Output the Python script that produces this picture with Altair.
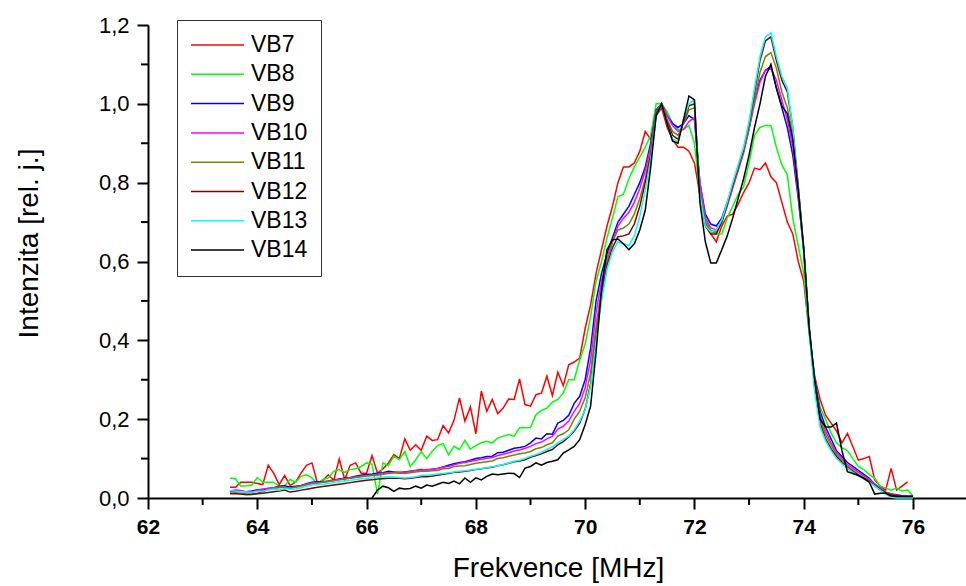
import altair as alt
import pandas as pd

# sample grid (MHz), 63.5 ... 76.0 in 0.1 steps
freq = [round(63.5 + 0.1 * i, 1) for i in range(126)]

series_names = ["VB7", "VB8", "VB9", "VB10", "VB11", "VB12", "VB13", "VB14"]
series_colors = ["#FF0000", "#00FF00", "#0000FF", "#FF00FF", "#808000", "#800000", "#00FFFF", "#000000"]

vb7 = [0.027, 0.027, 0.04, 0.04, 0.04, 0.037, 0.034, 0.083, 0.063, 0.034,
       0.057, 0.032, 0.04, 0.063, 0.083, 0.089, 0.038, 0.045, 0.059, 0.045,
       0.099, 0.047, 0.083, 0.089, 0.063, 0.063, 0.108, 0.063, 0.074, 0.089,
       0.11, 0.10, 0.15, 0.121, 0.135, 0.121, 0.157, 0.146, 0.148, 0.184,
       0.165, 0.197, 0.254, 0.195, 0.231, 0.163, 0.271, 0.22, 0.25, 0.214,
       0.228, 0.251, 0.25, 0.302, 0.237, 0.233, 0.262, 0.266, 0.309, 0.26,
       0.319, 0.285, 0.338, 0.345, 0.355, 0.43, 0.49, 0.57, 0.63, 0.69,
       0.74, 0.80, 0.84, 0.84, 0.85, 0.88, 0.93, 0.91, 0.97, 0.99,
       0.94, 0.91, 0.89, 0.89, 0.88, 0.85, 0.77, 0.70, 0.67, 0.65,
       0.69, 0.715, 0.72, 0.745, 0.775, 0.80, 0.837, 0.833, 0.85, 0.815,
       0.80, 0.75, 0.70, 0.67, 0.60, 0.55, 0.42, 0.31, 0.25, 0.21,
       0.19, 0.17, 0.14, 0.164, 0.13, 0.096, 0.10, 0.105, 0.046, 0.03,
       0.02, 0.075, 0.02, 0.03, 0.041, None]

vb8 = [0.051, 0.049, 0.03, 0.031, 0.033, 0.052, 0.04, 0.04, 0.04, 0.03,
       0.031, 0.047, 0.04, 0.055, 0.059, 0.051, 0.036, 0.047, 0.051, 0.068,
       0.072, 0.065, 0.072, 0.074, 0.08, 0.089, 0.086, 0.01, 0.089, 0.082,
       0.106, 0.097, 0.118, 0.08, 0.097, 0.118, 0.10, 0.118, 0.133, 0.138,
       0.11, 0.131, 0.123, 0.146, 0.124, 0.133, 0.14, 0.144, 0.14, 0.152,
       0.157, 0.161, 0.157, 0.178, 0.178, 0.179, 0.211, 0.222, 0.228, 0.243,
       0.25, 0.266, 0.30, 0.30, 0.35, 0.39, 0.46, 0.55, 0.60, 0.66,
       0.71, 0.765, 0.77, 0.81, 0.84, 0.865, 0.89, 0.92, 1.0, 1.0,
       0.98, 0.95, 0.935, 0.935, 0.945, 0.90, 0.77, 0.71, 0.68, 0.67,
       0.67, 0.71, 0.74, 0.77, 0.79, 0.85, 0.92, 0.94, 0.945, 0.945,
       0.89, 0.845, 0.82, 0.71, 0.64, 0.57, 0.42, 0.30, 0.23, 0.20,
       0.165, 0.14, 0.128, 0.12, 0.10, 0.08, 0.072, 0.06, 0.05, 0.03,
       0.025, 0.02, 0.025, 0.018, 0.02, 0.005]

vb9 = [0.016, 0.018, 0.017, 0.016, 0.018, 0.021, 0.02, 0.024, 0.026, 0.03,
       0.031, 0.028, 0.03, 0.032, 0.036, 0.04, 0.041, 0.041, 0.043, 0.046,
       0.048, 0.05, 0.052, 0.055, 0.058, 0.06, 0.061, 0.063, 0.064, 0.068,
       0.066, 0.064, 0.066, 0.068, 0.07, 0.072, 0.071, 0.073, 0.075, 0.079,
       0.083, 0.087, 0.09, 0.092, 0.096, 0.1, 0.102, 0.105, 0.106, 0.115,
       0.116, 0.121, 0.126, 0.128, 0.131, 0.14, 0.152, 0.15, 0.163, 0.162,
       0.19, 0.197, 0.21, 0.24, 0.258, 0.30, 0.38, 0.50, 0.57, 0.62,
       0.66, 0.70, 0.72, 0.74, 0.77, 0.80, 0.84, 0.90, 0.985, 1.0,
       0.97, 0.95, 0.94, 0.95, 0.97, 0.96, 0.80, 0.72, 0.695, 0.69,
       0.71, 0.75, 0.79, 0.835, 0.88, 0.94, 1.01, 1.06, 1.085, 1.095,
       1.04, 0.99, 0.94, 0.87, 0.76, 0.63, 0.43, 0.30, 0.22, 0.18,
       0.15, 0.12, 0.105, 0.09, 0.08, 0.07, 0.06, 0.05, 0.035, 0.025,
       0.015, 0.01, 0.008, 0.006, 0.005, 0.005]

vb10 = [0.018, 0.02, 0.019, 0.015, 0.016, 0.02, 0.023, 0.025, 0.026, 0.028,
        0.027, 0.025, 0.028, 0.031, 0.035, 0.038, 0.039, 0.04, 0.042, 0.045,
        0.047, 0.049, 0.051, 0.053, 0.055, 0.057, 0.058, 0.06, 0.062, 0.064,
        0.065, 0.066, 0.065, 0.068, 0.07, 0.071, 0.072, 0.072, 0.075, 0.078,
        0.08, 0.084, 0.088, 0.09, 0.093, 0.096, 0.098, 0.101, 0.103, 0.108,
        0.111, 0.115, 0.119, 0.122, 0.126, 0.131, 0.138, 0.142, 0.15, 0.156,
        0.175, 0.182, 0.195, 0.22, 0.24, 0.28, 0.35, 0.47, 0.55, 0.61,
        0.65, 0.69, 0.71, 0.725, 0.75, 0.785, 0.83, 0.89, 0.98, 1.0,
        0.97, 0.945, 0.93, 0.935, 0.955, 0.965, 0.80, 0.71, 0.685, 0.68,
        0.70, 0.74, 0.785, 0.83, 0.875, 0.935, 1.0, 1.055, 1.085, 1.09,
        1.06, 1.01, 0.96, 0.89, 0.77, 0.63, 0.43, 0.29, 0.21, 0.17,
        0.14, 0.115, 0.10, 0.085, 0.075, 0.065, 0.056, 0.047, 0.035, 0.025,
        0.015, 0.01, 0.007, 0.006, 0.005, 0.005]

vb11 = [0.012, 0.013, 0.012, 0.01, 0.011, 0.012, 0.016, 0.022, 0.025, 0.026,
        0.028, 0.025, 0.027, 0.03, 0.033, 0.036, 0.038, 0.04, 0.042, 0.044,
        0.046, 0.048, 0.05, 0.052, 0.054, 0.056, 0.057, 0.058, 0.06, 0.062,
        0.064, 0.063, 0.062, 0.064, 0.066, 0.068, 0.068, 0.069, 0.07, 0.074,
        0.075, 0.08, 0.081, 0.082, 0.085, 0.088, 0.09, 0.092, 0.094, 0.1,
        0.102, 0.106, 0.109, 0.112, 0.114, 0.118, 0.125, 0.128, 0.135, 0.14,
        0.157, 0.163, 0.173, 0.2, 0.22, 0.254, 0.317, 0.436, 0.53, 0.60,
        0.65, 0.68, 0.685, 0.695, 0.72, 0.76, 0.81, 0.88, 0.98, 1.0,
        0.96, 0.93, 0.92, 0.95, 0.985, 0.99, 0.78, 0.70, 0.675, 0.675,
        0.70, 0.745, 0.79, 0.835, 0.88, 0.94, 1.01, 1.08, 1.12, 1.13,
        1.09, 1.03, 0.99, 0.92, 0.79, 0.64, 0.44, 0.29, 0.205, 0.16,
        0.135, 0.11, 0.095, 0.08, 0.07, 0.06, 0.052, 0.044, 0.033, 0.022,
        0.014, 0.009, 0.006, 0.005, 0.004, 0.004]

vb12 = [0.011, 0.011, 0.01, 0.008, 0.009, 0.011, 0.012, 0.014, 0.016, 0.018,
        0.02, 0.015, 0.017, 0.02, 0.022, 0.025, 0.027, 0.029, 0.031, 0.033,
        0.035, 0.037, 0.039, 0.041, 0.043, 0.045, 0.046, 0.048, 0.049, 0.05,
        0.05, 0.05, 0.049, 0.05, 0.052, 0.054, 0.054, 0.056, 0.058, 0.06,
        0.062, 0.065, 0.066, 0.068, 0.07, 0.072, 0.074, 0.076, 0.078, 0.082,
        0.084, 0.088, 0.092, 0.094, 0.097, 0.103, 0.108, 0.112, 0.118, 0.123,
        0.135, 0.143, 0.155, 0.17, 0.19, 0.225, 0.29, 0.41, 0.51, 0.59,
        0.635, 0.663, 0.665, 0.67, 0.695, 0.74, 0.80, 0.87, 0.975, 1.0,
        0.955, 0.92, 0.91, 0.955, 0.995, 1.0, 0.77, 0.69, 0.67, 0.67,
        0.70, 0.745, 0.795, 0.84, 0.885, 0.95, 1.03, 1.11, 1.16, 1.17,
        1.11, 1.06, 1.03, 0.94, 0.79, 0.63, 0.43, 0.28, 0.19, 0.15,
        0.125, 0.105, 0.09, 0.077, 0.067, 0.058, 0.05, 0.042, 0.032, 0.022,
        0.013, 0.008, 0.006, 0.005, 0.004, 0.004]

vb13 = [0.019, 0.017, 0.016, 0.015, 0.014, 0.017, 0.018, 0.02, 0.022, 0.02,
        0.024, 0.022, 0.023, 0.026, 0.03, 0.033, 0.034, 0.035, 0.037, 0.039,
        0.041, 0.043, 0.045, 0.047, 0.049, 0.05, 0.051, 0.052, 0.053, 0.054,
        0.053, 0.052, 0.051, 0.052, 0.054, 0.057, 0.058, 0.059, 0.061, 0.062,
        0.064, 0.066, 0.068, 0.069, 0.071, 0.073, 0.075, 0.077, 0.079, 0.082,
        0.085, 0.089, 0.093, 0.096, 0.1, 0.106, 0.11, 0.116, 0.123, 0.13,
        0.14, 0.148, 0.157, 0.173, 0.195, 0.224, 0.283, 0.40, 0.50, 0.58,
        0.625, 0.65, 0.645, 0.64, 0.665, 0.715, 0.78, 0.86, 0.97, 1.0,
        0.95, 0.91, 0.905, 0.96, 1.0, 1.01, 0.77, 0.69, 0.675, 0.68,
        0.705, 0.75, 0.80, 0.845, 0.89, 0.955, 1.04, 1.12, 1.17, 1.18,
        1.12, 1.07, 1.04, 0.94, 0.78, 0.62, 0.42, 0.27, 0.18, 0.145,
        0.12, 0.10, 0.087, 0.075, 0.065, 0.056, 0.048, 0.04, 0.03, 0.02,
        0.01, 0.002, 0.0, 0.0, 0.0, 0.0]

vb14 = [None, None, None, None, None, None, None, None, None, None,
        None, None, None, None, None, None, None, None, None, None,
        None, None, None, None, None, None, 0.0, 0.02, 0.03, 0.026,
        0.017, 0.025, 0.023, 0.024, 0.03, 0.025, 0.033, 0.03, 0.035, 0.04,
        0.037, 0.043, 0.036, 0.051, 0.04, 0.051, 0.046, 0.055, 0.061, 0.059,
        0.061, 0.063, 0.062, 0.052, 0.076, 0.08, 0.089, 0.083, 0.09, 0.093,
        0.097, 0.114, 0.122, 0.131, 0.148, 0.186, 0.233, 0.37, 0.53, 0.63,
        0.655, 0.657, 0.645, 0.63, 0.645, 0.68, 0.73, 0.84, 0.97, 1.0,
        0.95, 0.905, 0.90, 0.96, 1.02, 1.01, 0.75, 0.65, 0.596, 0.596,
        0.63, 0.665, 0.71, 0.76, 0.81, 0.87, 0.94, 1.0, 1.07, 1.10,
        1.04, 0.995, 0.975, 0.91, 0.78, 0.63, 0.43, 0.30, 0.20, 0.18,
        0.18, 0.19, 0.12, 0.067, 0.062, 0.057, 0.05, 0.04, 0.01, 0.012,
        0.012, 0.005, 0.004, 0.004, 0.004, 0.004]

x_major = [62, 64, 66, 68, 70, 72, 74, 76]
x_minor = [63, 65, 67, 69, 71, 73, 75]
y_major = [0.0, 0.2, 0.4, 0.6, 0.8, 1.0, 1.2]
y_minor = [0.1, 0.3, 0.5, 0.7, 0.9, 1.1]

all_series = [vb7, vb8, vb9, vb10, vb11, vb12, vb13, vb14]
rows = []
for name, vals in zip(series_names, all_series):
    for f, v in zip(freq, vals):
        if v is not None:
            rows.append({"freq": f, "value": v, "series": name})
df = pd.DataFrame(rows)

FONT = "Liberation Sans"
PLOT_W, PLOT_H = 818, 473

x_scale = alt.Scale(domain=[62, 76.97], nice=False, zero=False)
y_scale = alt.Scale(domain=[0, 1.2], nice=False, zero=False)

x_axis = alt.Axis(values=x_major, format="d", labelFont=FONT, labelFontSize=21,
                  labelFontWeight="bold", labelColor="black", labelPadding=7,
                  labelFlush=False, labelOverlap=False,
                  tickSize=11, tickWidth=2, tickColor="black",
                  domainColor="black", domainWidth=2, grid=False,
                  title="Frekvence [MHz]", titleFont=FONT, titleFontSize=28,
                  titleFontWeight="normal", titleColor="black",
                  titleAnchor="middle", titleBaseline="alphabetic",
                  titleY=78, titleX=PLOT_W / 2 + 1)
y_axis = alt.Axis(values=y_major,
                  labelExpr="replace(format(datum.value, '.1f'), '.', ',')",
                  labelFont=FONT, labelFontSize=22, labelColor="black", labelPadding=8,
                  labelFlush=False, labelOverlap=False,
                  tickSize=11, tickWidth=2, tickColor="black",
                  domainColor="black", domainWidth=2, grid=False,
                  title="Intenzita [rel. j.]", titleFont=FONT, titleFontSize=28,
                  titleFontWeight="normal", titleColor="black",
                  titleAngle=270, titleAlign="center", titleBaseline="alphabetic",
                  titleX=-111, titleY=218)

legend = alt.Legend(title=None, orient="none", legendX=29, legendY=-5,
                    symbolType="stroke", symbolSize=2809, symbolStrokeWidth=1.5,
                    clipHeight=24, rowPadding=5.3, padding=13, labelOffset=6,
                    labelFont=FONT, labelFontSize=23, labelColor="black",
                    strokeColor="#333333", fillColor="white", cornerRadius=0)

lines = alt.Chart(df).mark_line(strokeWidth=1.5).encode(
    x=alt.X("freq:Q", scale=x_scale, axis=x_axis),
    y=alt.Y("value:Q", scale=y_scale, axis=y_axis),
    color=alt.Color("series:N", sort=series_names,
                    scale=alt.Scale(domain=series_names, range=series_colors),
                    legend=legend),
)

xminor = alt.Chart(pd.DataFrame({"freq": x_minor})).mark_rule(
    color="black", strokeWidth=2).encode(
    x=alt.X("freq:Q", scale=x_scale, axis=x_axis),
    y=alt.value(PLOT_H), y2=alt.value(PLOT_H + 7))

yminor = alt.Chart(pd.DataFrame({"value": y_minor})).mark_rule(
    color="black", strokeWidth=2).encode(
    y=alt.Y("value:Q", scale=y_scale, axis=y_axis),
    x=alt.value(-7), x2=alt.value(0))

chart = alt.layer(lines, xminor, yminor).properties(
    width=PLOT_W, height=PLOT_H,
    padding={"left": 148, "top": 25, "right": 0, "bottom": 86},
    autosize=alt.AutoSizeParams(type="none"),
    background="white",
).configure_view(stroke=None)

chart.save("out.html", embed_options={"renderer": "svg", "actions": False})
